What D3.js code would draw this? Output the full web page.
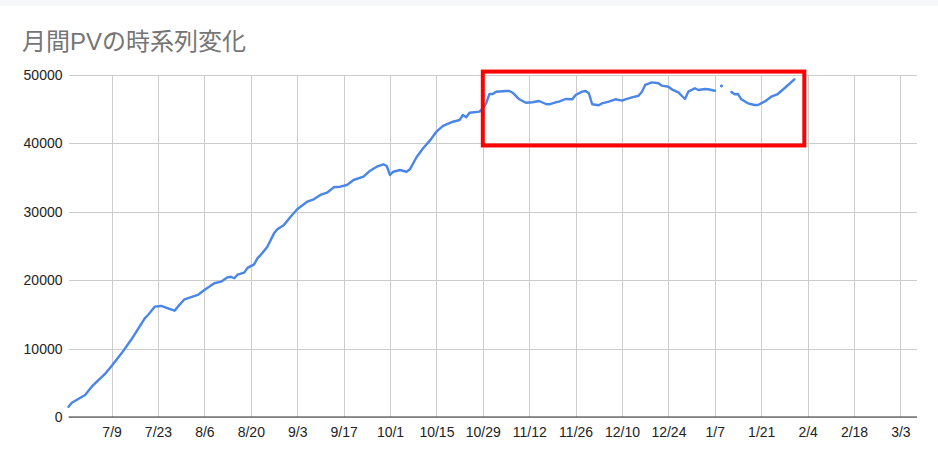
<!DOCTYPE html>
<html><head><meta charset="utf-8">
<script src="https://cdn.jsdelivr.net/npm/d3@7"></script>
<style>
html,body{margin:0;padding:0;background:#fff;}
svg{display:block;}
</style></head>
<body>
<svg id="c" width="938" height="458"></svg>
<script>
const title = "月間PVの時系列変化";
const dates = [
"2023-06-26","2023-06-27","2023-07-01","2023-07-03","2023-07-07","2023-07-09","2023-07-12","2023-07-15","2023-07-19","2023-07-20",
"2023-07-22","2023-07-24","2023-07-26","2023-07-28","2023-07-29","2023-07-31","2023-08-04","2023-08-06","2023-08-09","2023-08-11",
"2023-08-13","2023-08-14","2023-08-15","2023-08-16","2023-08-18","2023-08-19","2023-08-21","2023-08-22","2023-08-23","2023-08-25",
"2023-08-27","2023-08-28","2023-08-30","2023-09-01","2023-09-03","2023-09-06","2023-09-08","2023-09-10","2023-09-12","2023-09-14",
"2023-09-16","2023-09-18","2023-09-20","2023-09-23","2023-09-25","2023-09-27","2023-09-29","2023-09-30","2023-10-01","2023-10-02",
"2023-10-04","2023-10-06","2023-10-07","2023-10-09","2023-10-11","2023-10-13","2023-10-15","2023-10-17","2023-10-20","2023-10-22",
"2023-10-23","2023-10-24","2023-10-25","2023-10-28","2023-10-29","2023-10-30","2023-10-31","2023-11-01","2023-11-02","2023-11-05",
"2023-11-06","2023-11-07","2023-11-09","2023-11-11","2023-11-13","2023-11-15","2023-11-17","2023-11-18","2023-11-20","2023-11-21",
"2023-11-23","2023-11-25","2023-11-26","2023-11-28","2023-11-29","2023-11-30","2023-12-01","2023-12-03","2023-12-04","2023-12-06",
"2023-12-08","2023-12-10","2023-12-11","2023-12-13","2023-12-15","2023-12-16","2023-12-17","2023-12-19","2023-12-21","2023-12-22",
"2023-12-24","2023-12-25","2023-12-27","2023-12-28","2023-12-29","2023-12-30","2024-01-01","2024-01-02","2024-01-04","2024-01-05",
"2024-01-07","2024-01-08","2024-01-09","2024-01-10","2024-01-12","2024-01-13","2024-01-14","2024-01-15","2024-01-17","2024-01-19",
"2024-01-20","2024-01-22","2024-01-24","2024-01-26","2024-01-28","2024-01-31"
];
const pageViews = [
1500,2090,3220,4430,6290,7460,9310,11360,14430,14910,
16130,16230,15890,15540,16130,17210,17840,18570,19550,19780,
20420,20510,20280,20800,21100,21800,22320,23200,23700,24900,
26850,27440,28070,29280,30370,31480,31830,32460,32790,33580,
33670,33920,34650,35130,36010,36590,36950,36700,35380,35860,
36110,35860,36210,37970,39290,40400,41710,42550,43170,43420,
44150,43820,44490,44640,45130,45860,47220,47220,47560,47660,
47660,47410,46450,45950,46010,46200,45760,45720,46010,46100,
46490,46450,47080,47560,47660,47330,45720,45570,45860,46100,
46450,46260,46450,46740,46970,47560,48540,48930,48790,48440,
48290,47910,47470,46970,46490,47560,48060,47810,47950,47910,
47700,null,48390,null,47520,47180,47220,46450,45860,45610,
45610,46100,46830,47220,48060,49370
];
const xDomain = ["2023-06-26","2024-03-08"];
const xTicks = ["2023-07-09","2023-07-23","2023-08-06","2023-08-20","2023-09-03","2023-09-17","2023-10-01","2023-10-15","2023-10-29",
"2023-11-12","2023-11-26","2023-12-10","2023-12-24","2024-01-07","2024-01-21","2024-02-04","2024-02-18","2024-03-03"];
const yTicks = [0,10000,20000,30000,40000,50000];
const highlightDates = ["2023-10-29","2024-02-03"];
const highlightValues = [39700,50500];

const parse = d3.utcParse("%Y-%m-%d");
const data = dates.map((d,i)=>({date:parse(d), v:pageViews[i]}));

const svg = d3.select("#c");
const L = 68.5, R = 917, T = 75, B = 417;
const x = d3.scaleUtc().domain(xDomain.map(parse)).range([L,R]);
const y = d3.scaleLinear().domain([0,50000]).range([B,T]);

svg.append("rect").attr("x",0).attr("y",0).attr("width",938).attr("height",6).attr("fill","#f6f7f9");

svg.append("text").attr("x",22).attr("y",50).text(title)
  .attr("font-family","'Liberation Sans','Noto Sans CJK JP',sans-serif")
  .attr("font-size",24).attr("fill","#757575");

const font = "'Liberation Sans', Arial, sans-serif";

// horizontal grid + y labels
const yAxis = d3.axisLeft(y).tickValues(yTicks).tickSize(-(R-L)).tickFormat(d3.format("d")).tickPadding(6);
const gy = svg.append("g").attr("transform",`translate(${L},0)`).call(yAxis);
gy.select(".domain").remove();
gy.selectAll(".tick line").attr("stroke","#cccccc").attr("shape-rendering","crispEdges");
gy.selectAll(".tick text").attr("font-family",font).attr("font-size",14).attr("fill","#222").attr("x",-6);

// vertical grid + x labels
const fmt = d3.utcFormat("%-m/%-d");
const xAxis = d3.axisBottom(x).tickValues(xTicks.map(parse)).tickSize(-(B-T)).tickFormat(fmt).tickPadding(10);
const gx = svg.append("g").attr("transform",`translate(0,${B})`).call(xAxis);
gx.select(".domain").remove();
gx.selectAll(".tick line").attr("stroke","#cccccc").attr("shape-rendering","crispEdges");
gx.selectAll(".tick text").attr("font-family",font).attr("font-size",14).attr("fill","#222");

// baseline
svg.append("line").attr("x1",L).attr("x2",R).attr("y1",y(0)).attr("y2",y(0))
  .attr("stroke","#333").attr("stroke-width",1.2);

// line
const line = d3.line().defined(d=>d.v!==null).x(d=>x(d.date)).y(d=>y(d.v)).curve(d3.curveLinear);
svg.append("path").datum(data).attr("d",line).attr("fill","none")
  .attr("stroke","#4a86e8").attr("stroke-width",2.4).attr("stroke-linejoin","round").attr("stroke-linecap","round");

// isolated points
data.forEach((d,i)=>{
  if(d.v===null) return;
  const prev = i>0 ? data[i-1].v : null, next = i<data.length-1 ? data[i+1].v : null;
  if(prev===null && next===null && i>0 && i<data.length-1){
    svg.append("circle").attr("cx",x(d.date)).attr("cy",y(d.v)).attr("r",1.4).attr("fill","#4a86e8");
  }
});

// highlight box
const hx = highlightDates.map(parse).map(x), hy = highlightValues.map(y);
svg.append("rect").attr("x",hx[0]).attr("y",hy[1]).attr("width",hx[1]-hx[0]).attr("height",hy[0]-hy[1])
  .attr("fill","none").attr("stroke","#ff0000").attr("stroke-width",4);
</script>
</body></html>
